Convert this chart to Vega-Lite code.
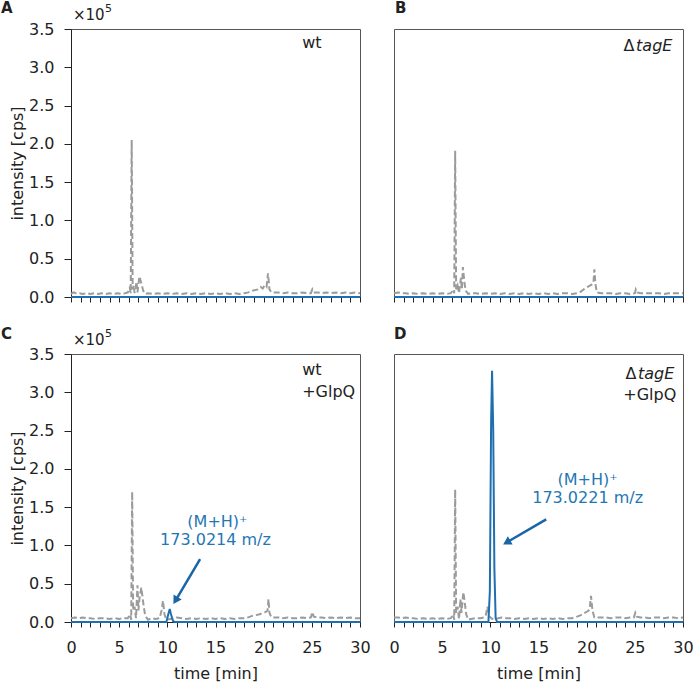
{
  "$schema": "https://vega.github.io/schema/vega-lite/v6.json",
  "padding": {"left": 0, "top": 0, "right": 0, "bottom": 0},
  "config": {
    "font": "DejaVu Sans",
    "view": {"stroke": "#555", "strokeWidth": 1},
    "axis": {"labelFontSize": 16, "titleFontSize": 16, "titleFontWeight": "normal", "labelColor": "#222", "titleColor": "#222", "tickColor": "#222", "domainColor": "#222", "grid": false, "labelFont": "DejaVu Sans", "titleFont": "DejaVu Sans", "labelOverlap": false, "labelFlush": false},
    "text": {"font": "DejaVu Sans", "fontSize": 16, "color": "#222"}
  },
  "datasets": {
    "gA": [{"t":0,"v":0.04},{"t":0.25,"v":0.06},{"t":0.5,"v":0.05},{"t":0.9,"v":0.05},{"t":1.2,"v":0.04},{"t":1.6,"v":0.05},{"t":2,"v":0.04},{"t":2.4,"v":0.05},{"t":2.8,"v":0.04},{"t":3.2,"v":0.05},{"t":3.6,"v":0.04},{"t":4,"v":0.05},{"t":4.4,"v":0.04},{"t":4.8,"v":0.05},{"t":5.2,"v":0.04},{"t":5.6,"v":0.05},{"t":5.9,"v":0.06},{"t":6.1,"v":0.12},{"t":6.2,"v":0.05},{"t":6.3,"v":2.05},{"t":6.4,"v":0.1},{"t":6.5,"v":0.15},{"t":6.6,"v":0.05},{"t":6.8,"v":0.2},{"t":6.9,"v":0.06},{"t":7.1,"v":0.27},{"t":7.3,"v":0.18},{"t":7.5,"v":0.08},{"t":7.7,"v":0.04},{"t":8,"v":0.05},{"t":8.5,"v":0.04},{"t":9,"v":0.05},{"t":9.5,"v":0.04},{"t":10,"v":0.05},{"t":10.5,"v":0.04},{"t":11,"v":0.05},{"t":11.5,"v":0.04},{"t":12,"v":0.05},{"t":12.5,"v":0.04},{"t":13,"v":0.05},{"t":13.5,"v":0.04},{"t":14,"v":0.05},{"t":14.5,"v":0.04},{"t":15,"v":0.05},{"t":15.5,"v":0.04},{"t":16,"v":0.05},{"t":16.5,"v":0.04},{"t":17,"v":0.05},{"t":17.5,"v":0.04},{"t":18,"v":0.05},{"t":18.4,"v":0.06},{"t":18.8,"v":0.08},{"t":19.1,"v":0.09},{"t":19.4,"v":0.1},{"t":19.7,"v":0.13},{"t":19.9,"v":0.11},{"t":20.1,"v":0.15},{"t":20.3,"v":0.13},{"t":20.45,"v":0.31},{"t":20.6,"v":0.1},{"t":20.8,"v":0.06},{"t":21.5,"v":0.06},{"t":22,"v":0.05},{"t":22.5,"v":0.06},{"t":23,"v":0.05},{"t":23.5,"v":0.05},{"t":24,"v":0.06},{"t":24.5,"v":0.05},{"t":24.9,"v":0.05},{"t":25.05,"v":0.1},{"t":25.2,"v":0.06},{"t":25.6,"v":0.06},{"t":26,"v":0.05},{"t":26.5,"v":0.06},{"t":27,"v":0.05},{"t":27.5,"v":0.06},{"t":28,"v":0.05},{"t":28.5,"v":0.06},{"t":29,"v":0.05},{"t":29.5,"v":0.06},{"t":30,"v":0.05}],
    "gB": [{"t":0,"v":0.05},{"t":0.4,"v":0.06},{"t":0.8,"v":0.05},{"t":1.2,"v":0.05},{"t":1.6,"v":0.04},{"t":2,"v":0.05},{"t":2.5,"v":0.04},{"t":3,"v":0.05},{"t":3.5,"v":0.04},{"t":4,"v":0.05},{"t":4.5,"v":0.04},{"t":5,"v":0.05},{"t":5.5,"v":0.04},{"t":5.9,"v":0.05},{"t":6.15,"v":0.1},{"t":6.25,"v":0.05},{"t":6.35,"v":1.91},{"t":6.45,"v":0.1},{"t":6.6,"v":0.15},{"t":6.75,"v":0.05},{"t":6.95,"v":0.25},{"t":7.05,"v":0.1},{"t":7.15,"v":0.39},{"t":7.3,"v":0.2},{"t":7.45,"v":0.08},{"t":7.7,"v":0.04},{"t":8,"v":0.05},{"t":8.5,"v":0.05},{"t":9,"v":0.04},{"t":9.5,"v":0.05},{"t":10,"v":0.04},{"t":10.5,"v":0.05},{"t":11,"v":0.04},{"t":11.5,"v":0.05},{"t":12,"v":0.04},{"t":12.5,"v":0.05},{"t":13,"v":0.04},{"t":13.5,"v":0.05},{"t":14,"v":0.04},{"t":14.5,"v":0.05},{"t":15,"v":0.04},{"t":15.5,"v":0.05},{"t":16,"v":0.04},{"t":16.5,"v":0.05},{"t":17,"v":0.04},{"t":17.5,"v":0.05},{"t":18,"v":0.05},{"t":18.5,"v":0.04},{"t":19,"v":0.05},{"t":19.4,"v":0.07},{"t":19.8,"v":0.11},{"t":20.2,"v":0.14},{"t":20.5,"v":0.16},{"t":20.7,"v":0.18},{"t":20.8,"v":0.36},{"t":20.9,"v":0.18},{"t":21.05,"v":0.06},{"t":21.5,"v":0.05},{"t":22,"v":0.05},{"t":22.5,"v":0.05},{"t":23,"v":0.04},{"t":23.5,"v":0.05},{"t":24,"v":0.05},{"t":24.5,"v":0.04},{"t":25,"v":0.05},{"t":25.1,"v":0.1},{"t":25.25,"v":0.06},{"t":25.6,"v":0.05},{"t":26,"v":0.05},{"t":26.5,"v":0.05},{"t":27,"v":0.05},{"t":27.5,"v":0.05},{"t":28,"v":0.04},{"t":28.5,"v":0.05},{"t":29,"v":0.05},{"t":29.5,"v":0.05},{"t":30,"v":0.05}],
    "gC": [{"t":0,"v":0.05},{"t":0.4,"v":0.06},{"t":0.8,"v":0.05},{"t":1.2,"v":0.06},{"t":1.6,"v":0.05},{"t":2,"v":0.05},{"t":2.5,"v":0.04},{"t":3,"v":0.05},{"t":3.5,"v":0.05},{"t":4,"v":0.04},{"t":4.5,"v":0.05},{"t":5,"v":0.04},{"t":5.5,"v":0.05},{"t":5.9,"v":0.05},{"t":6.15,"v":0.1},{"t":6.25,"v":0.03},{"t":6.35,"v":1.7},{"t":6.45,"v":0.15},{"t":6.6,"v":0.2},{"t":6.75,"v":0.05},{"t":6.9,"v":0.48},{"t":7.0,"v":0.15},{"t":7.1,"v":0.3},{"t":7.3,"v":0.45},{"t":7.5,"v":0.25},{"t":7.7,"v":0.08},{"t":8,"v":0.03},{"t":8.4,"v":0.05},{"t":8.8,"v":0.04},{"t":9.2,"v":0.05},{"t":9.4,"v":0.15},{"t":9.55,"v":0.28},{"t":9.7,"v":0.1},{"t":9.9,"v":0.03},{"t":10.3,"v":0.04},{"t":10.7,"v":0.05},{"t":11,"v":0.06},{"t":11.5,"v":0.05},{"t":12,"v":0.04},{"t":12.5,"v":0.05},{"t":13,"v":0.04},{"t":13.5,"v":0.05},{"t":14,"v":0.04},{"t":14.5,"v":0.05},{"t":15,"v":0.04},{"t":15.5,"v":0.05},{"t":16,"v":0.04},{"t":16.5,"v":0.05},{"t":17,"v":0.04},{"t":17.5,"v":0.05},{"t":18,"v":0.05},{"t":18.4,"v":0.06},{"t":18.8,"v":0.08},{"t":19.2,"v":0.09},{"t":19.6,"v":0.1},{"t":19.9,"v":0.12},{"t":20.2,"v":0.13},{"t":20.4,"v":0.15},{"t":20.5,"v":0.3},{"t":20.6,"v":0.12},{"t":20.8,"v":0.06},{"t":21.5,"v":0.06},{"t":22,"v":0.05},{"t":22.5,"v":0.06},{"t":23,"v":0.05},{"t":23.5,"v":0.05},{"t":24,"v":0.06},{"t":24.5,"v":0.05},{"t":24.9,"v":0.06},{"t":25.05,"v":0.13},{"t":25.2,"v":0.07},{"t":25.6,"v":0.06},{"t":26,"v":0.06},{"t":26.5,"v":0.05},{"t":27,"v":0.06},{"t":27.5,"v":0.05},{"t":28,"v":0.06},{"t":28.5,"v":0.05},{"t":29,"v":0.06},{"t":29.5,"v":0.05},{"t":30,"v":0.05}],
    "gD": [{"t":0,"v":0.06},{"t":0.4,"v":0.06},{"t":0.8,"v":0.05},{"t":1.2,"v":0.06},{"t":1.6,"v":0.05},{"t":2,"v":0.05},{"t":2.5,"v":0.04},{"t":3,"v":0.05},{"t":3.5,"v":0.04},{"t":4,"v":0.05},{"t":4.5,"v":0.04},{"t":5,"v":0.05},{"t":5.5,"v":0.04},{"t":5.9,"v":0.05},{"t":6.15,"v":0.1},{"t":6.25,"v":0.03},{"t":6.35,"v":1.73},{"t":6.45,"v":0.12},{"t":6.6,"v":0.2},{"t":6.75,"v":0.04},{"t":6.9,"v":0.3},{"t":7.0,"v":0.12},{"t":7.2,"v":0.39},{"t":7.35,"v":0.25},{"t":7.5,"v":0.1},{"t":7.7,"v":0.03},{"t":8,"v":0.04},{"t":8.5,"v":0.05},{"t":9,"v":0.05},{"t":9.4,"v":0.06},{"t":9.55,"v":0.1},{"t":9.7,"v":0.2},{"t":9.85,"v":0.08},{"t":10.2,"v":0.04},{"t":10.8,"v":0.05},{"t":11.2,"v":0.06},{"t":11.6,"v":0.05},{"t":12,"v":0.05},{"t":12.5,"v":0.04},{"t":13,"v":0.05},{"t":13.5,"v":0.04},{"t":14,"v":0.05},{"t":14.5,"v":0.04},{"t":15,"v":0.05},{"t":15.5,"v":0.04},{"t":16,"v":0.05},{"t":16.5,"v":0.04},{"t":17,"v":0.05},{"t":17.5,"v":0.04},{"t":18,"v":0.05},{"t":18.5,"v":0.05},{"t":19,"v":0.07},{"t":19.4,"v":0.09},{"t":19.8,"v":0.12},{"t":20.1,"v":0.14},{"t":20.3,"v":0.16},{"t":20.45,"v":0.34},{"t":20.6,"v":0.15},{"t":20.8,"v":0.06},{"t":21.5,"v":0.06},{"t":22,"v":0.06},{"t":22.5,"v":0.05},{"t":23,"v":0.06},{"t":23.5,"v":0.06},{"t":24,"v":0.05},{"t":24.5,"v":0.06},{"t":24.9,"v":0.06},{"t":25.05,"v":0.12},{"t":25.2,"v":0.07},{"t":25.6,"v":0.06},{"t":26,"v":0.06},{"t":26.5,"v":0.05},{"t":27,"v":0.06},{"t":27.5,"v":0.06},{"t":28,"v":0.05},{"t":28.5,"v":0.06},{"t":29,"v":0.06},{"t":29.5,"v":0.05},{"t":30,"v":0.06}],
    "bA": [{"t":0,"v":0},{"t":30,"v":0}],
    "bB": [{"t":0,"v":0},{"t":30,"v":0}],
    "bC": [{"t":0,"v":0},{"t":9.9,"v":0},{"t":10.1,"v":0.1},{"t":10.25,"v":0.17},{"t":10.4,"v":0.09},{"t":10.6,"v":0.01},{"t":10.8,"v":0},{"t":30,"v":0}],
    "bD": [{"t":0,"v":0},{"t":9.8,"v":0},{"t":9.95,"v":0.4},{"t":10.08,"v":2.6},{"t":10.18,"v":3.28},{"t":10.3,"v":2.5},{"t":10.42,"v":0.7},{"t":10.55,"v":0.05},{"t":10.7,"v":0},{"t":30,"v":0}],
    "arC": [{"t":13.4,"v":0.82,"t2":10.85,"v2":0.28}],
    "arD": [{"t":15.8,"v":1.34,"t2":11.7,"v2":1.04}]
  },
  "concat": [
    {
      "width": 289, "height": 268,
      "layer": [
        {"data": {"name": "gA"}, "mark": {"type": "line", "color": "#9b9b9b", "strokeWidth": 2, "strokeDash": [6, 3]},
         "encoding": {
           "x": {"field": "t", "type": "quantitative", "scale": {"domain": [0, 30], "nice": false}, "axis": {"values": [0,1,2,3,4,5,6,7,8,9,10,11,12,13,14,15,16,17,18,19,20,21,22,23,24,25,26,27,28,29,30], "tickCount": 100, "format": "d", "labels": false, "tickSize": 5, "title": null}},
           "y": {"field": "v", "type": "quantitative", "scale": {"domain": [0, 3.5], "nice": false}, "axis": {"values": [0,0.5,1,1.5,2,2.5,3,3.5], "tickCount": 100, "format": ".1f", "tickSize": 7, "labelPadding": 10, "title": "intensity [cps]", "titlePadding": 3}}}},
        {"data": {"name": "bA"}, "mark": {"type": "line", "color": "#1f6fb0", "strokeWidth": 2},
         "encoding": {"x": {"field": "t", "type": "quantitative"}, "y": {"field": "v", "type": "quantitative"}}},
        {"data": {"values": [{}]}, "mark": {"type": "text", "text": "×10", "align": "left", "baseline": "middle", "dx": 2, "dy": -14, "fontSize": 15},
         "encoding": {"x": {"datum": 0}, "y": {"datum": 3.5}}},
        {"data": {"values": [{}]}, "mark": {"type": "text", "text": "5", "align": "left", "baseline": "middle", "dx": 34, "dy": -20, "fontSize": 11},
         "encoding": {"x": {"datum": 0}, "y": {"datum": 3.5}}},
        {"data": {"values": [{}]}, "mark": {"type": "text", "text": "A", "fontWeight": "bold", "fontSize": 15, "align": "left", "baseline": "middle", "dx": -70, "dy": -21},
         "encoding": {"x": {"datum": 0}, "y": {"datum": 3.5}}},
        {"data": {"values": [{}]}, "mark": {"type": "text", "text": "wt", "align": "left", "baseline": "middle"},
         "encoding": {"x": {"datum": 24}, "y": {"datum": 3.32}}}
      ]
    },
    {
      "width": 289, "height": 268,
      "layer": [
        {"data": {"name": "gB"}, "mark": {"type": "line", "color": "#9b9b9b", "strokeWidth": 2, "strokeDash": [6, 3]},
         "encoding": {
           "x": {"field": "t", "type": "quantitative", "scale": {"domain": [0, 30], "nice": false}, "axis": {"values": [0,1,2,3,4,5,6,7,8,9,10,11,12,13,14,15,16,17,18,19,20,21,22,23,24,25,26,27,28,29,30], "tickCount": 100, "format": "d", "labels": false, "tickSize": 5, "title": null}},
           "y": {"field": "v", "type": "quantitative", "scale": {"domain": [0, 3.5], "nice": false}, "axis": null}}},
        {"data": {"name": "bB"}, "mark": {"type": "line", "color": "#1f6fb0", "strokeWidth": 2},
         "encoding": {"x": {"field": "t", "type": "quantitative"}, "y": {"field": "v", "type": "quantitative"}}},
        {"data": {"values": [{}]}, "mark": {"type": "text", "text": "B", "fontWeight": "bold", "fontSize": 15, "align": "left", "baseline": "middle", "dx": 1, "dy": -21},
         "encoding": {"x": {"datum": 0}, "y": {"datum": 3.5}}},
        {"data": {"values": [{}]}, "mark": {"type": "text", "text": "tagE", "fontStyle": "italic", "align": "right", "baseline": "middle"},
         "encoding": {"x": {"datum": 28.9}, "y": {"datum": 3.28}}},
        {"data": {"values": [{}]}, "mark": {"type": "text", "text": "Δ", "align": "right", "baseline": "middle", "dx": -38},
         "encoding": {"x": {"datum": 28.9}, "y": {"datum": 3.28}}}
      ]
    },
    {
      "width": 289, "height": 268,
      "layer": [
        {"data": {"name": "gC"}, "mark": {"type": "line", "color": "#9b9b9b", "strokeWidth": 2, "strokeDash": [6, 3]},
         "encoding": {
           "x": {"field": "t", "type": "quantitative", "scale": {"domain": [0, 30], "nice": false}, "axis": {"values": [0,1,2,3,4,5,6,7,8,9,10,11,12,13,14,15,16,17,18,19,20,21,22,23,24,25,26,27,28,29,30], "tickCount": 100, "format": "d", "labelExpr": "datum.value % 5 === 0 ? datum.label : ''", "tickSize": 5, "labelPadding": 12, "title": "time [min]", "titlePadding": 10}},
           "y": {"field": "v", "type": "quantitative", "scale": {"domain": [0, 3.5], "nice": false}, "axis": {"values": [0,0.5,1,1.5,2,2.5,3,3.5], "tickCount": 100, "format": ".1f", "tickSize": 7, "labelPadding": 10, "title": "intensity [cps]", "titlePadding": 3}}}},
        {"data": {"name": "bC"}, "mark": {"type": "line", "color": "#1f6fb0", "strokeWidth": 2},
         "encoding": {"x": {"field": "t", "type": "quantitative"}, "y": {"field": "v", "type": "quantitative"}}},
        {"data": {"name": "arC"}, "mark": {"type": "rule", "color": "#1a65a6", "strokeWidth": 2.5},
         "encoding": {"x": {"field": "t", "type": "quantitative"}, "y": {"field": "v", "type": "quantitative"}, "x2": {"field": "t2"}, "y2": {"field": "v2"}}},
        {"data": {"name": "arC"}, "mark": {"type": "point", "shape": "triangle-up", "filled": true, "color": "#1a65a6", "opacity": 1, "size": 90, "angle": 211},
         "encoding": {"x": {"field": "t2", "type": "quantitative"}, "y": {"field": "v2", "type": "quantitative"}}},
        {"data": {"values": [{}]}, "mark": {"type": "text", "text": "(M+H)⁺", "color": "#1f77b4", "align": "center", "baseline": "middle"},
         "encoding": {"x": {"datum": 15.2}, "y": {"datum": 1.31}}},
        {"data": {"values": [{}]}, "mark": {"type": "text", "text": "173.0214 m/z", "color": "#1f77b4", "align": "center", "baseline": "middle"},
         "encoding": {"x": {"datum": 15.0}, "y": {"datum": 1.07}}},
        {"data": {"values": [{}]}, "mark": {"type": "text", "text": "×10", "align": "left", "baseline": "middle", "dx": 2, "dy": -14, "fontSize": 15},
         "encoding": {"x": {"datum": 0}, "y": {"datum": 3.5}}},
        {"data": {"values": [{}]}, "mark": {"type": "text", "text": "5", "align": "left", "baseline": "middle", "dx": 34, "dy": -20, "fontSize": 11},
         "encoding": {"x": {"datum": 0}, "y": {"datum": 3.5}}},
        {"data": {"values": [{}]}, "mark": {"type": "text", "text": "C", "fontWeight": "bold", "fontSize": 15, "align": "left", "baseline": "middle", "dx": -70, "dy": -20},
         "encoding": {"x": {"datum": 0}, "y": {"datum": 3.5}}},
        {"data": {"values": [{}]}, "mark": {"type": "text", "text": ["wt", "+GlpQ"], "align": "left", "baseline": "middle", "lineHeight": 22},
         "encoding": {"x": {"datum": 24}, "y": {"datum": 3.29}}}
      ]
    },
    {
      "width": 289, "height": 268,
      "layer": [
        {"data": {"name": "gD"}, "mark": {"type": "line", "color": "#9b9b9b", "strokeWidth": 2, "strokeDash": [6, 3]},
         "encoding": {
           "x": {"field": "t", "type": "quantitative", "scale": {"domain": [0, 30], "nice": false}, "axis": {"values": [0,1,2,3,4,5,6,7,8,9,10,11,12,13,14,15,16,17,18,19,20,21,22,23,24,25,26,27,28,29,30], "tickCount": 100, "format": "d", "labelExpr": "datum.value % 5 === 0 ? datum.label : ''", "tickSize": 5, "labelPadding": 12, "title": "time [min]", "titlePadding": 10}},
           "y": {"field": "v", "type": "quantitative", "scale": {"domain": [0, 3.5], "nice": false}, "axis": null}}},
        {"data": {"name": "bD"}, "mark": {"type": "line", "color": "#1f6fb0", "strokeWidth": 2},
         "encoding": {"x": {"field": "t", "type": "quantitative"}, "y": {"field": "v", "type": "quantitative"}}},
        {"data": {"name": "arD"}, "mark": {"type": "rule", "color": "#1a65a6", "strokeWidth": 2.5},
         "encoding": {"x": {"field": "t", "type": "quantitative"}, "y": {"field": "v", "type": "quantitative"}, "x2": {"field": "t2"}, "y2": {"field": "v2"}}},
        {"data": {"name": "arD"}, "mark": {"type": "point", "shape": "triangle-up", "filled": true, "color": "#1a65a6", "opacity": 1, "size": 90, "angle": 240},
         "encoding": {"x": {"field": "t2", "type": "quantitative"}, "y": {"field": "v2", "type": "quantitative"}}},
        {"data": {"values": [{}]}, "mark": {"type": "text", "text": "(M+H)⁺", "color": "#1f77b4", "align": "center", "baseline": "middle"},
         "encoding": {"x": {"datum": 20.1}, "y": {"datum": 1.86}}},
        {"data": {"values": [{}]}, "mark": {"type": "text", "text": "173.0221 m/z", "color": "#1f77b4", "align": "center", "baseline": "middle"},
         "encoding": {"x": {"datum": 20.1}, "y": {"datum": 1.62}}},
        {"data": {"values": [{}]}, "mark": {"type": "text", "text": "D", "fontWeight": "bold", "fontSize": 15, "align": "left", "baseline": "middle", "dx": 0, "dy": -20},
         "encoding": {"x": {"datum": 0}, "y": {"datum": 3.5}}},
        {"data": {"values": [{}]}, "mark": {"type": "text", "text": "tagE", "fontStyle": "italic", "align": "right", "baseline": "middle"},
         "encoding": {"x": {"datum": 29.1}, "y": {"datum": 3.24}}},
        {"data": {"values": [{}]}, "mark": {"type": "text", "text": "Δ", "align": "right", "baseline": "middle", "dx": -38},
         "encoding": {"x": {"datum": 29.1}, "y": {"datum": 3.24}}},
        {"data": {"values": [{}]}, "mark": {"type": "text", "text": "+GlpQ", "align": "right", "baseline": "middle"},
         "encoding": {"x": {"datum": 29.3}, "y": {"datum": 2.97}}}
      ]
    }
  ],
  "columns": 2,
  "spacing": {"row": 57, "column": 34},
  "bounds": "flush"
}
